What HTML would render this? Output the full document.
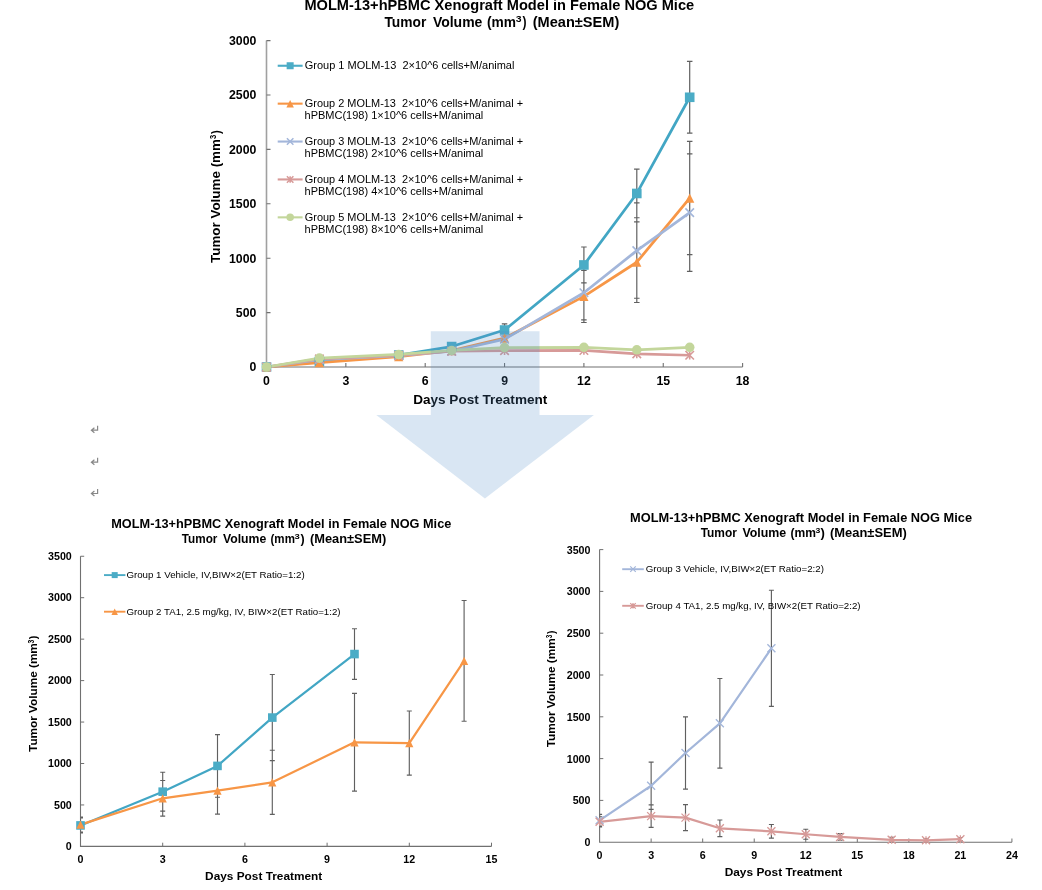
<!DOCTYPE html>
<html><head><meta charset="utf-8"><style>
html,body{margin:0;padding:0;background:#fff;}
body{width:1042px;height:890px;overflow:hidden;}
svg{display:block;font-family:"Liberation Sans", sans-serif;will-change:transform;}
text{fill:#000;white-space:pre;}
</style></head><body>
<svg width="1042" height="890" viewBox="0 0 1042 890">
<rect width="1042" height="890" fill="#fff"/>
<path d="M266.5 40.6V367H742.6" stroke="#A0A0A0" stroke-width="1.6" fill="none"/>
<path d="M266.5 312.6h4M266.5 258.2h4M266.5 203.8h4M266.5 149.4h4M266.5 95h4M266.5 40.6h4M345.85 367v-4M425.2 367v-4M504.55 367v-4M583.9 367v-4M663.25 367v-4M742.6 367v-4" stroke="#707070" stroke-width="1.1" fill="none"/>
<text x="256.4" y="371.3" text-anchor="end" font-size="12.3" font-weight="bold">0</text>
<text x="256.4" y="316.9" text-anchor="end" font-size="12.3" font-weight="bold">500</text>
<text x="256.4" y="262.5" text-anchor="end" font-size="12.3" font-weight="bold">1000</text>
<text x="256.4" y="208.1" text-anchor="end" font-size="12.3" font-weight="bold">1500</text>
<text x="256.4" y="153.7" text-anchor="end" font-size="12.3" font-weight="bold">2000</text>
<text x="256.4" y="99.3" text-anchor="end" font-size="12.3" font-weight="bold">2500</text>
<text x="256.4" y="44.9" text-anchor="end" font-size="12.3" font-weight="bold">3000</text>
<text x="266.5" y="385.2" text-anchor="middle" font-size="12.3" font-weight="bold">0</text>
<text x="345.85" y="385.2" text-anchor="middle" font-size="12.3" font-weight="bold">3</text>
<text x="425.2" y="385.2" text-anchor="middle" font-size="12.3" font-weight="bold">6</text>
<text x="504.55" y="385.2" text-anchor="middle" font-size="12.3" font-weight="bold">9</text>
<text x="583.9" y="385.2" text-anchor="middle" font-size="12.3" font-weight="bold">12</text>
<text x="663.25" y="385.2" text-anchor="middle" font-size="12.3" font-weight="bold">15</text>
<text x="742.6" y="385.2" text-anchor="middle" font-size="12.3" font-weight="bold">18</text>
<text x="413.19" y="404.10" font-size="13.4" font-weight="bold" textLength="134.07" lengthAdjust="spacingAndGlyphs">Days Post Treatment</text>
<g transform="translate(219.9 0) rotate(-90)">
<text x="-262.95" y="0.00" font-size="13.4" font-weight="bold" textLength="123.88" lengthAdjust="spacingAndGlyphs">Tumor Volume (mm</text>
<text x="-138.98" y="-4.00" font-size="8.8" font-weight="bold" textLength="4.25" lengthAdjust="spacingAndGlyphs">3</text>
<text x="-133.91" y="0.00" font-size="13.4" font-weight="bold" textLength="3.78" lengthAdjust="spacingAndGlyphs">)</text>
</g>
<text x="304.42" y="10.00" font-size="14" font-weight="bold" textLength="389.77" lengthAdjust="spacingAndGlyphs">MOLM-13+hPBMC Xenograft Model in Female NOG Mice</text>
<clipPath id="c1"><rect x="266.5" y="0" width="486.1" height="367"/></clipPath>
<path d="M398.75 352.86V357.21M396 352.86h5.5M396 357.21h5.5M451.65 343.28V349.81M448.9 343.28h5.5M448.9 349.81h5.5M504.55 323.81V336.21M501.8 323.81h5.5M501.8 336.21h5.5M583.9 246.99V282.9M581.15 246.99h5.5M581.15 282.9h5.5M636.8 169.2V217.73M634.05 169.2h5.5M634.05 217.73h5.5M689.7 61.38V133.19M686.95 61.38h5.5M686.95 133.19h5.5M583.9 270.28V322.5M581.15 270.28h5.5M581.15 322.5h5.5M636.8 221.97V302.48M634.05 221.97h5.5M634.05 302.48h5.5M689.7 141.46V254.61M686.95 141.46h5.5M686.95 254.61h5.5M583.9 265.82V319.78M581.15 265.82h5.5M581.15 319.78h5.5M636.8 202.93V298.24M634.05 202.93h5.5M634.05 298.24h5.5M689.7 153.86V271.36M686.95 153.86h5.5M686.95 271.36h5.5" stroke="#606060" stroke-width="1.2" fill="none" clip-path="url(#c1)"/>
<polyline points="266.5,367 319.4,361.56 398.75,355.03 451.65,346.55 504.55,330.01 583.9,264.95 636.8,193.46 689.7,97.28" fill="none" stroke="#42A6C4" stroke-width="2.75" stroke-linejoin="round"/>
<polyline points="266.5,367 319.4,362.65 398.75,356.66 451.65,350.68 504.55,338.17 583.9,296.39 636.8,262.23 689.7,198.03" fill="none" stroke="#F79646" stroke-width="2.75" stroke-linejoin="round"/>
<polyline points="266.5,367 319.4,359.6 398.75,355.58 451.65,351.22 504.55,339.26 583.9,292.8 636.8,250.58 689.7,212.61" fill="none" stroke="#A3B6DA" stroke-width="2.75" stroke-linejoin="round"/>
<polyline points="266.5,367 319.4,358.84 398.75,355.25 451.65,351.22 504.55,350.68 583.9,350.46 636.8,353.94 689.7,355.25" fill="none" stroke="#D79A98" stroke-width="2.75" stroke-linejoin="round"/>
<polyline points="266.5,367 319.4,358.08 398.75,354.49 451.65,350.46 504.55,347.63 583.9,347.31 636.8,349.81 689.7,347.31" fill="none" stroke="#C3D69B" stroke-width="2.75" stroke-linejoin="round"/>
<rect x="261.7" y="362.2" width="9.6" height="9.6" fill="#4BACC6"/>
<rect x="314.6" y="356.76" width="9.6" height="9.6" fill="#4BACC6"/>
<rect x="393.95" y="350.23" width="9.6" height="9.6" fill="#4BACC6"/>
<rect x="446.85" y="341.75" width="9.6" height="9.6" fill="#4BACC6"/>
<rect x="499.75" y="325.21" width="9.6" height="9.6" fill="#4BACC6"/>
<rect x="579.1" y="260.15" width="9.6" height="9.6" fill="#4BACC6"/>
<rect x="632" y="188.66" width="9.6" height="9.6" fill="#4BACC6"/>
<rect x="684.9" y="92.48" width="9.6" height="9.6" fill="#4BACC6"/>
<polygon points="266.5,362.4 271.1,371.6 261.9,371.6" fill="#F79646"/>
<polygon points="319.4,358.05 324,367.25 314.8,367.25" fill="#F79646"/>
<polygon points="398.75,352.06 403.35,361.26 394.15,361.26" fill="#F79646"/>
<polygon points="451.65,346.08 456.25,355.28 447.05,355.28" fill="#F79646"/>
<polygon points="504.55,333.57 509.15,342.77 499.95,342.77" fill="#F79646"/>
<polygon points="583.9,291.79 588.5,300.99 579.3,300.99" fill="#F79646"/>
<polygon points="636.8,257.63 641.4,266.83 632.2,266.83" fill="#F79646"/>
<polygon points="689.7,193.43 694.3,202.63 685.1,202.63" fill="#F79646"/>
<path d="M262.25 362.75L270.75 371.25M270.75 362.75L262.25 371.25" stroke="#A3B6DA" stroke-width="1.6" fill="none"/>
<path d="M315.15 355.35L323.65 363.85M323.65 355.35L315.15 363.85" stroke="#A3B6DA" stroke-width="1.6" fill="none"/>
<path d="M394.5 351.33L403 359.83M403 351.33L394.5 359.83" stroke="#A3B6DA" stroke-width="1.6" fill="none"/>
<path d="M447.4 346.97L455.9 355.47M455.9 346.97L447.4 355.47" stroke="#A3B6DA" stroke-width="1.6" fill="none"/>
<path d="M500.3 335.01L508.8 343.51M508.8 335.01L500.3 343.51" stroke="#A3B6DA" stroke-width="1.6" fill="none"/>
<path d="M579.65 288.55L588.15 297.05M588.15 288.55L579.65 297.05" stroke="#A3B6DA" stroke-width="1.6" fill="none"/>
<path d="M632.55 246.33L641.05 254.83M641.05 246.33L632.55 254.83" stroke="#A3B6DA" stroke-width="1.6" fill="none"/>
<path d="M685.45 208.36L693.95 216.86M693.95 208.36L685.45 216.86" stroke="#A3B6DA" stroke-width="1.6" fill="none"/>
<path d="M262.25 362.75L270.75 371.25M270.75 362.75L262.25 371.25M266.5 362.75L266.5 371.25" stroke="#D79A98" stroke-width="1.6" fill="none"/>
<path d="M315.15 354.59L323.65 363.09M323.65 354.59L315.15 363.09M319.4 354.59L319.4 363.09" stroke="#D79A98" stroke-width="1.6" fill="none"/>
<path d="M394.5 351L403 359.5M403 351L394.5 359.5M398.75 351L398.75 359.5" stroke="#D79A98" stroke-width="1.6" fill="none"/>
<path d="M447.4 346.97L455.9 355.47M455.9 346.97L447.4 355.47M451.65 346.97L451.65 355.47" stroke="#D79A98" stroke-width="1.6" fill="none"/>
<path d="M500.3 346.43L508.8 354.93M508.8 346.43L500.3 354.93M504.55 346.43L504.55 354.93" stroke="#D79A98" stroke-width="1.6" fill="none"/>
<path d="M579.65 346.21L588.15 354.71M588.15 346.21L579.65 354.71M583.9 346.21L583.9 354.71" stroke="#D79A98" stroke-width="1.6" fill="none"/>
<path d="M632.55 349.69L641.05 358.19M641.05 349.69L632.55 358.19M636.8 349.69L636.8 358.19" stroke="#D79A98" stroke-width="1.6" fill="none"/>
<path d="M685.45 351L693.95 359.5M693.95 351L685.45 359.5M689.7 351L689.7 359.5" stroke="#D79A98" stroke-width="1.6" fill="none"/>
<circle cx="266.5" cy="367" r="4.8" fill="#C3D69B"/>
<circle cx="319.4" cy="358.08" r="4.8" fill="#C3D69B"/>
<circle cx="398.75" cy="354.49" r="4.8" fill="#C3D69B"/>
<circle cx="451.65" cy="350.46" r="4.8" fill="#C3D69B"/>
<circle cx="504.55" cy="347.63" r="4.8" fill="#C3D69B"/>
<circle cx="583.9" cy="347.31" r="4.8" fill="#C3D69B"/>
<circle cx="636.8" cy="349.81" r="4.8" fill="#C3D69B"/>
<circle cx="689.7" cy="347.31" r="4.8" fill="#C3D69B"/>
<path d="M277.7 65.75H302.6" stroke="#4BACC6" stroke-width="2.1"/>
<rect x="286.65" y="62.25" width="7" height="7" fill="#4BACC6"/>
<text x="304.75" y="69.15" font-size="11" textLength="209.68" lengthAdjust="spacingAndGlyphs">Group 1 MOLM-13  2×10^6 cells+M/animal</text>
<path d="M277.7 103.65H302.6" stroke="#F79646" stroke-width="2.1"/>
<polygon points="290.15,99.9 293.9,107.4 286.4,107.4" fill="#F79646"/>
<text x="304.75" y="107.05" font-size="11" textLength="218.28" lengthAdjust="spacingAndGlyphs">Group 2 MOLM-13  2×10^6 cells+M/animal +</text>
<text x="304.54" y="119.35" font-size="11" textLength="178.80" lengthAdjust="spacingAndGlyphs">hPBMC(198) 1×10^6 cells+M/animal</text>
<path d="M277.7 141.55H302.6" stroke="#A3B6DA" stroke-width="2.1"/>
<path d="M286.9 138.3L293.4 144.8M293.4 138.3L286.9 144.8" stroke="#A3B6DA" stroke-width="1.5" fill="none"/>
<text x="304.75" y="144.95" font-size="11" textLength="218.28" lengthAdjust="spacingAndGlyphs">Group 3 MOLM-13  2×10^6 cells+M/animal +</text>
<text x="304.54" y="157.25" font-size="11" textLength="178.80" lengthAdjust="spacingAndGlyphs">hPBMC(198) 2×10^6 cells+M/animal</text>
<path d="M277.7 179.45H302.6" stroke="#D79A98" stroke-width="2.1"/>
<path d="M286.9 176.2L293.4 182.7M293.4 176.2L286.9 182.7M290.15 176.2L290.15 182.7" stroke="#D79A98" stroke-width="1.5" fill="none"/>
<text x="304.75" y="182.85" font-size="11" textLength="218.28" lengthAdjust="spacingAndGlyphs">Group 4 MOLM-13  2×10^6 cells+M/animal +</text>
<text x="304.54" y="195.15" font-size="11" textLength="178.80" lengthAdjust="spacingAndGlyphs">hPBMC(198) 4×10^6 cells+M/animal</text>
<path d="M277.7 217.35H302.6" stroke="#C3D69B" stroke-width="2.1"/>
<circle cx="290.15" cy="217.35" r="3.75" fill="#C3D69B"/>
<text x="304.75" y="220.75" font-size="11" textLength="218.28" lengthAdjust="spacingAndGlyphs">Group 5 MOLM-13  2×10^6 cells+M/animal +</text>
<text x="304.54" y="233.05" font-size="11" textLength="178.80" lengthAdjust="spacingAndGlyphs">hPBMC(198) 8×10^6 cells+M/animal</text>
<text x="384.45" y="26.70" font-size="14" font-weight="bold" textLength="41.87" lengthAdjust="spacingAndGlyphs">Tumor</text>
<text x="432.90" y="26.70" font-size="14" font-weight="bold" textLength="49.48" lengthAdjust="spacingAndGlyphs">Volume</text>
<text x="487.01" y="26.70" font-size="14" font-weight="bold" textLength="29.05" lengthAdjust="spacingAndGlyphs">(mm</text>
<text x="515.86" y="21.80" font-size="8.2" font-weight="bold" textLength="5.82" lengthAdjust="spacingAndGlyphs">3</text>
<text x="522.49" y="26.70" font-size="14" font-weight="bold" textLength="4.02" lengthAdjust="spacingAndGlyphs">)</text>
<text x="532.67" y="26.70" font-size="14" font-weight="bold" textLength="86.66" lengthAdjust="spacingAndGlyphs">(Mean±SEM)</text>
<path d="M80.5 556.25V846.4H491.5" stroke="#707070" stroke-width="1.1" fill="none"/>
<path d="M80.5 804.95h3.7M80.5 763.5h3.7M80.5 722.05h3.7M80.5 680.6h3.7M80.5 639.15h3.7M80.5 597.7h3.7M80.5 556.25h3.7M162.7 846.4v-3.7M244.9 846.4v-3.7M327.1 846.4v-3.7M409.3 846.4v-3.7M491.5 846.4v-3.7" stroke="#707070" stroke-width="1" fill="none"/>
<text x="71.8" y="850" text-anchor="end" font-size="10.7" font-weight="bold">0</text>
<text x="71.8" y="808.55" text-anchor="end" font-size="10.7" font-weight="bold">500</text>
<text x="71.8" y="767.1" text-anchor="end" font-size="10.7" font-weight="bold">1000</text>
<text x="71.8" y="725.65" text-anchor="end" font-size="10.7" font-weight="bold">1500</text>
<text x="71.8" y="684.2" text-anchor="end" font-size="10.7" font-weight="bold">2000</text>
<text x="71.8" y="642.75" text-anchor="end" font-size="10.7" font-weight="bold">2500</text>
<text x="71.8" y="601.3" text-anchor="end" font-size="10.7" font-weight="bold">3000</text>
<text x="71.8" y="559.85" text-anchor="end" font-size="10.7" font-weight="bold">3500</text>
<text x="80.5" y="862.5" text-anchor="middle" font-size="10.7" font-weight="bold">0</text>
<text x="162.7" y="862.5" text-anchor="middle" font-size="10.7" font-weight="bold">3</text>
<text x="244.9" y="862.5" text-anchor="middle" font-size="10.7" font-weight="bold">6</text>
<text x="327.1" y="862.5" text-anchor="middle" font-size="10.7" font-weight="bold">9</text>
<text x="409.3" y="862.5" text-anchor="middle" font-size="10.7" font-weight="bold">12</text>
<text x="491.5" y="862.5" text-anchor="middle" font-size="10.7" font-weight="bold">15</text>
<text x="205.11" y="879.90" font-size="11.75" font-weight="bold" textLength="117.13" lengthAdjust="spacingAndGlyphs">Days Post Treatment</text>
<g transform="translate(37 0) rotate(-90)">
<text x="-751.93" y="0.00" font-size="11.75" font-weight="bold" textLength="108.76" lengthAdjust="spacingAndGlyphs">Tumor Volume (mm</text>
<text x="-643.46" y="-3.10" font-size="8.2" font-weight="bold" textLength="3.80" lengthAdjust="spacingAndGlyphs">3</text>
<text x="-639.21" y="0.00" font-size="11.75" font-weight="bold" textLength="3.66" lengthAdjust="spacingAndGlyphs">)</text>
</g>
<text x="111.25" y="527.90" font-size="12.7" font-weight="bold" textLength="340.08" lengthAdjust="spacingAndGlyphs">MOLM-13+hPBMC Xenograft Model in Female NOG Mice</text>
<clipPath id="c2"><rect x="80.5" y="0" width="421" height="846.4"/></clipPath>
<path d="M80.5 817.97V832.89M78 817.97h5M78 832.89h5M162.7 772.2V811.17M160.2 772.2h5M160.2 811.17h5M217.5 734.57V797.24M215 734.57h5M215 797.24h5M272.3 674.47V760.68M269.8 674.47h5M269.8 760.68h5M354.5 628.79V679.36M352 628.79h5M352 679.36h5M80.5 817.14V832.06M78 817.14h5M78 832.06h5M162.7 780.49V816.14M160.2 780.49h5M160.2 816.14h5M217.5 767.31V814.07M215 767.31h5M215 814.07h5M272.3 750.24V814.4M269.8 750.24h5M269.8 814.4h5M354.5 693.37V791.19M352 693.37h5M352 791.19h5M409.3 711.02V775.19M406.8 711.02h5M406.8 775.19h5M464.1 600.52V721.22M461.6 600.52h5M461.6 721.22h5" stroke="#606060" stroke-width="1.15" fill="none" clip-path="url(#c2)"/>
<polyline points="80.5,825.43 162.7,791.69 217.5,765.9 272.3,717.57 354.5,654.07" fill="none" stroke="#42A6C4" stroke-width="2.2" stroke-linejoin="round"/>
<polyline points="80.5,824.6 162.7,798.32 217.5,790.69 272.3,782.32 354.5,742.28 409.3,743.11 464.1,660.87" fill="none" stroke="#F79646" stroke-width="2.2" stroke-linejoin="round"/>
<rect x="76.2" y="821.13" width="8.6" height="8.6" fill="#4BACC6"/>
<rect x="158.4" y="787.39" width="8.6" height="8.6" fill="#4BACC6"/>
<rect x="213.2" y="761.6" width="8.6" height="8.6" fill="#4BACC6"/>
<rect x="268" y="713.27" width="8.6" height="8.6" fill="#4BACC6"/>
<rect x="350.2" y="649.77" width="8.6" height="8.6" fill="#4BACC6"/>
<polygon points="80.5,820.5 84.6,828.7 76.4,828.7" fill="#F79646"/>
<polygon points="162.7,794.22 166.8,802.42 158.6,802.42" fill="#F79646"/>
<polygon points="217.5,786.59 221.6,794.79 213.4,794.79" fill="#F79646"/>
<polygon points="272.3,778.22 276.4,786.42 268.2,786.42" fill="#F79646"/>
<polygon points="354.5,738.18 358.6,746.38 350.4,746.38" fill="#F79646"/>
<polygon points="409.3,739.01 413.4,747.21 405.2,747.21" fill="#F79646"/>
<polygon points="464.1,656.77 468.2,664.97 460,664.97" fill="#F79646"/>
<path d="M104 575.1H125.4" stroke="#4BACC6" stroke-width="1.9"/>
<rect x="111.7" y="572.1" width="6" height="6" fill="#4BACC6"/>
<text x="126.41" y="578.30" font-size="9.65" textLength="178.29" lengthAdjust="spacingAndGlyphs">Group 1 Vehicle, IV,BIW×2(ET Ratio=1:2)</text>
<path d="M104 611.7H125.4" stroke="#F79646" stroke-width="1.9"/>
<polygon points="114.7,608.45 117.95,614.95 111.45,614.95" fill="#F79646"/>
<text x="126.42" y="614.90" font-size="9.65" textLength="214.19" lengthAdjust="spacingAndGlyphs">Group 2 TA1, 2.5 mg/kg, IV, BIW×2(ET Ratio=1:2)</text>
<text x="181.77" y="542.60" font-size="12.2" font-weight="bold" textLength="35.61" lengthAdjust="spacingAndGlyphs">Tumor</text>
<text x="222.91" y="542.60" font-size="12.2" font-weight="bold" textLength="43.31" lengthAdjust="spacingAndGlyphs">Volume</text>
<text x="270.52" y="542.60" font-size="12.2" font-weight="bold" textLength="24.40" lengthAdjust="spacingAndGlyphs">(mm</text>
<text x="294.58" y="538.60" font-size="7.8" font-weight="bold" textLength="5.26" lengthAdjust="spacingAndGlyphs">3</text>
<text x="300.59" y="542.60" font-size="12.2" font-weight="bold" textLength="4.13" lengthAdjust="spacingAndGlyphs">)</text>
<text x="309.96" y="542.60" font-size="12.2" font-weight="bold" textLength="76.29" lengthAdjust="spacingAndGlyphs">(Mean±SEM)</text>
<path d="M599.6 549.6V842.2H1011.92" stroke="#707070" stroke-width="1.1" fill="none"/>
<path d="M599.6 800.4h3.7M599.6 758.6h3.7M599.6 716.8h3.7M599.6 675h3.7M599.6 633.2h3.7M599.6 591.4h3.7M599.6 549.6h3.7M651.14 842.2v-3.7M702.68 842.2v-3.7M754.22 842.2v-3.7M805.76 842.2v-3.7M857.3 842.2v-3.7M908.84 842.2v-3.7M960.38 842.2v-3.7M1011.92 842.2v-3.7" stroke="#707070" stroke-width="1" fill="none"/>
<text x="590.5" y="846.1" text-anchor="end" font-size="10.7" font-weight="bold">0</text>
<text x="590.5" y="804.3" text-anchor="end" font-size="10.7" font-weight="bold">500</text>
<text x="590.5" y="762.5" text-anchor="end" font-size="10.7" font-weight="bold">1000</text>
<text x="590.5" y="720.7" text-anchor="end" font-size="10.7" font-weight="bold">1500</text>
<text x="590.5" y="678.9" text-anchor="end" font-size="10.7" font-weight="bold">2000</text>
<text x="590.5" y="637.1" text-anchor="end" font-size="10.7" font-weight="bold">2500</text>
<text x="590.5" y="595.3" text-anchor="end" font-size="10.7" font-weight="bold">3000</text>
<text x="590.5" y="553.5" text-anchor="end" font-size="10.7" font-weight="bold">3500</text>
<text x="599.6" y="858.6" text-anchor="middle" font-size="10.7" font-weight="bold">0</text>
<text x="651.14" y="858.6" text-anchor="middle" font-size="10.7" font-weight="bold">3</text>
<text x="702.68" y="858.6" text-anchor="middle" font-size="10.7" font-weight="bold">6</text>
<text x="754.22" y="858.6" text-anchor="middle" font-size="10.7" font-weight="bold">9</text>
<text x="805.76" y="858.6" text-anchor="middle" font-size="10.7" font-weight="bold">12</text>
<text x="857.3" y="858.6" text-anchor="middle" font-size="10.7" font-weight="bold">15</text>
<text x="908.84" y="858.6" text-anchor="middle" font-size="10.7" font-weight="bold">18</text>
<text x="960.38" y="858.6" text-anchor="middle" font-size="10.7" font-weight="bold">21</text>
<text x="1011.92" y="858.6" text-anchor="middle" font-size="10.7" font-weight="bold">24</text>
<text x="724.70" y="875.70" font-size="11.75" font-weight="bold" textLength="117.53" lengthAdjust="spacingAndGlyphs">Days Post Treatment</text>
<g transform="translate(555 0) rotate(-90)">
<text x="-747.33" y="0.00" font-size="11.75" font-weight="bold" textLength="108.96" lengthAdjust="spacingAndGlyphs">Tumor Volume (mm</text>
<text x="-638.35" y="-3.00" font-size="8.2" font-weight="bold" textLength="3.58" lengthAdjust="spacingAndGlyphs">3</text>
<text x="-633.91" y="0.00" font-size="11.75" font-weight="bold" textLength="3.42" lengthAdjust="spacingAndGlyphs">)</text>
</g>
<text x="630.14" y="521.80" font-size="12.7" font-weight="bold" textLength="341.89" lengthAdjust="spacingAndGlyphs">MOLM-13+hPBMC Xenograft Model in Female NOG Mice</text>
<clipPath id="c3"><rect x="599.6" y="0" width="422.32" height="842.2"/></clipPath>
<path d="M599.6 814.44V826.15M597.1 814.44h5M597.1 826.15h5M651.14 762.11V809.43M648.64 762.11h5M648.64 809.43h5M685.5 716.88V789.11M683 716.88h5M683 789.11h5M719.86 678.51V768.13M717.36 678.51h5M717.36 768.13h5M771.4 590.23V706.43M768.9 590.23h5M768.9 706.43h5M599.6 816.79V826.82M597.1 816.79h5M597.1 826.82h5M651.14 804.91V827.32M648.64 804.91h5M648.64 827.32h5M685.5 804.66V830.58M683 804.66h5M683 830.58h5M719.86 819.96V836.68M717.36 819.96h5M717.36 836.68h5M771.4 824.48V838.19M768.9 824.48h5M768.9 838.19h5M805.76 829.24V839.27M803.26 829.24h5M803.26 839.27h5M840.12 833.59V840.28M837.62 833.59h5M837.62 840.28h5M891.66 837.27V842.28M889.16 837.27h5M889.16 842.28h5M926.02 838.61V841.95M923.52 838.61h5M923.52 841.95h5M960.38 837.52V840.86M957.88 837.52h5M957.88 840.86h5" stroke="#606060" stroke-width="1.15" fill="none" clip-path="url(#c3)"/>
<polyline points="599.6,820.3 651.14,785.77 685.5,753 719.86,723.32 771.4,648.33" fill="none" stroke="#A3B6DA" stroke-width="2.2" stroke-linejoin="round"/>
<polyline points="599.6,821.8 651.14,816.12 685.5,817.62 719.86,828.32 771.4,831.33 805.76,834.26 840.12,836.93 891.66,839.78 926.02,840.28 960.38,839.19" fill="none" stroke="#D79A98" stroke-width="2.2" stroke-linejoin="round"/>
<path d="M595.6 816.3L603.6 824.3M603.6 816.3L595.6 824.3" stroke="#A3B6DA" stroke-width="1.3" fill="none"/>
<path d="M647.14 781.77L655.14 789.77M655.14 781.77L647.14 789.77" stroke="#A3B6DA" stroke-width="1.3" fill="none"/>
<path d="M681.5 749L689.5 757M689.5 749L681.5 757" stroke="#A3B6DA" stroke-width="1.3" fill="none"/>
<path d="M715.86 719.32L723.86 727.32M723.86 719.32L715.86 727.32" stroke="#A3B6DA" stroke-width="1.3" fill="none"/>
<path d="M767.4 644.33L775.4 652.33M775.4 644.33L767.4 652.33" stroke="#A3B6DA" stroke-width="1.3" fill="none"/>
<path d="M595.6 817.8L603.6 825.8M603.6 817.8L595.6 825.8M599.6 817.8L599.6 825.8" stroke="#D79A98" stroke-width="1.3" fill="none"/>
<path d="M647.14 812.12L655.14 820.12M655.14 812.12L647.14 820.12M651.14 812.12L651.14 820.12" stroke="#D79A98" stroke-width="1.3" fill="none"/>
<path d="M681.5 813.62L689.5 821.62M689.5 813.62L681.5 821.62M685.5 813.62L685.5 821.62" stroke="#D79A98" stroke-width="1.3" fill="none"/>
<path d="M715.86 824.32L723.86 832.32M723.86 824.32L715.86 832.32M719.86 824.32L719.86 832.32" stroke="#D79A98" stroke-width="1.3" fill="none"/>
<path d="M767.4 827.33L775.4 835.33M775.4 827.33L767.4 835.33M771.4 827.33L771.4 835.33" stroke="#D79A98" stroke-width="1.3" fill="none"/>
<path d="M801.76 830.26L809.76 838.26M809.76 830.26L801.76 838.26M805.76 830.26L805.76 838.26" stroke="#D79A98" stroke-width="1.3" fill="none"/>
<path d="M836.12 832.93L844.12 840.93M844.12 832.93L836.12 840.93M840.12 832.93L840.12 840.93" stroke="#D79A98" stroke-width="1.3" fill="none"/>
<path d="M887.66 835.78L895.66 843.78M895.66 835.78L887.66 843.78M891.66 835.78L891.66 843.78" stroke="#D79A98" stroke-width="1.3" fill="none"/>
<path d="M922.02 836.28L930.02 844.28M930.02 836.28L922.02 844.28M926.02 836.28L926.02 844.28" stroke="#D79A98" stroke-width="1.3" fill="none"/>
<path d="M956.38 835.19L964.38 843.19M964.38 835.19L956.38 843.19M960.38 835.19L960.38 843.19" stroke="#D79A98" stroke-width="1.3" fill="none"/>
<path d="M622.2 569.2H643.8" stroke="#A3B6DA" stroke-width="1.9"/>
<path d="M630.25 566.45L635.75 571.95M635.75 566.45L630.25 571.95" stroke="#A3B6DA" stroke-width="1.2" fill="none"/>
<text x="645.71" y="572.40" font-size="9.65" textLength="178.19" lengthAdjust="spacingAndGlyphs">Group 3 Vehicle, IV,BIW×2(ET Ratio=2:2)</text>
<path d="M622.2 605.8H643.8" stroke="#D79A98" stroke-width="1.9"/>
<path d="M630.25 603.05L635.75 608.55M635.75 603.05L630.25 608.55M633 603.05L633 608.55" stroke="#D79A98" stroke-width="1.2" fill="none"/>
<text x="645.71" y="609.00" font-size="9.65" textLength="214.89" lengthAdjust="spacingAndGlyphs">Group 4 TA1, 2.5 mg/kg, IV, BIW×2(ET Ratio=2:2)</text>
<text x="700.67" y="536.60" font-size="12.2" font-weight="bold" textLength="36.22" lengthAdjust="spacingAndGlyphs">Tumor</text>
<text x="742.41" y="536.60" font-size="12.2" font-weight="bold" textLength="43.82" lengthAdjust="spacingAndGlyphs">Volume</text>
<text x="790.50" y="536.60" font-size="12.2" font-weight="bold" textLength="25.45" lengthAdjust="spacingAndGlyphs">(mm</text>
<text x="815.60" y="532.60" font-size="7.8" font-weight="bold" textLength="4.81" lengthAdjust="spacingAndGlyphs">3</text>
<text x="820.59" y="536.60" font-size="12.2" font-weight="bold" textLength="4.37" lengthAdjust="spacingAndGlyphs">)</text>
<text x="829.95" y="536.60" font-size="12.2" font-weight="bold" textLength="76.79" lengthAdjust="spacingAndGlyphs">(Mean±SEM)</text>
<path d="M97.6 425.8V430.2H91.6M94.4 427.7L91.4 430.2L94.4 432.7" stroke="#888" stroke-width="1.2" fill="none"/>
<path d="M97.6 457.8V462.2H91.6M94.4 459.7L91.4 462.2L94.4 464.7" stroke="#888" stroke-width="1.2" fill="none"/>
<path d="M97.6 489.1V493.5H91.6M94.4 491L91.4 493.5L94.4 496" stroke="#888" stroke-width="1.2" fill="none"/>
<polygon points="430.8,331.2 539.5,331.2 539.5,414.9 593.9,414.9 484.9,498.4 376.3,414.9 430.8,414.9" fill="rgb(84,140,200)" fill-opacity="0.22"/>
</svg>
</body></html>
